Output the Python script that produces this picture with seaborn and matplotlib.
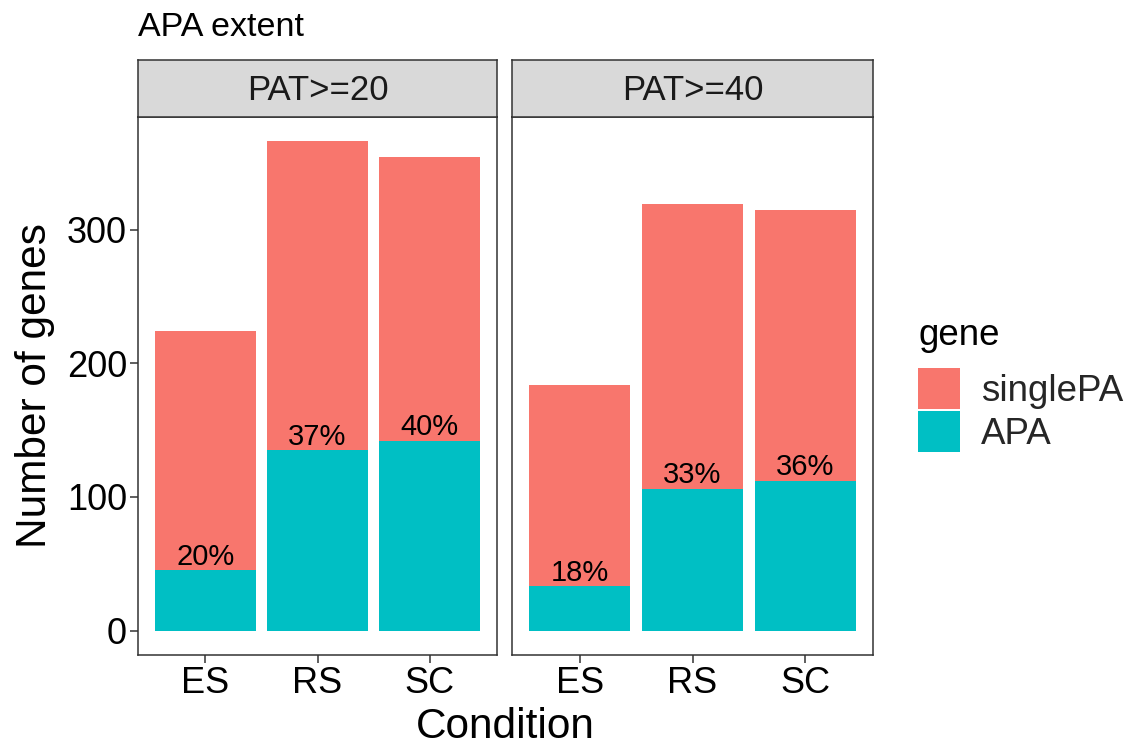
import matplotlib
matplotlib.use("Agg")
import matplotlib.pyplot as plt
from matplotlib.patches import Patch
import seaborn as sns
import pandas as pd

# Gene counts per condition and PAT threshold
conditions = ["ES", "RS", "SC"]
thresholds = ["PAT>=20", "PAT>=40"]
apa_counts = {"PAT>=20": [45, 135, 142], "PAT>=40": [33, 106, 112]}
single_pa_counts = {"PAT>=20": [179, 231, 212], "PAT>=40": [151, 213, 203]}

gene_levels = ["singlePA", "APA"]
gene_colors = {"singlePA": "#F8766D", "APA": "#00BFC4"}

rows = []
for th in thresholds:
    for cond, a, s in zip(conditions, apa_counts[th], single_pa_counts[th]):
        rows.append({"threshold": th, "Condition": cond, "APA": a,
                     "singlePA": s, "total": a + s})
df = pd.DataFrame(rows)
df["pct"] = (df["APA"] / df["total"] * 100).round().astype(int)

sns.set_theme(style="white")
plt.rcParams["font.family"] = ["Liberation Sans", "DejaVu Sans"]

W, H = 1128, 747
fig = plt.figure(figsize=(W / 100, H / 100), dpi=100)
fig.patch.set_facecolor("white")

dark = "#333333"
panel_x = [(138, 497), (512, 873)]
panel_top, panel_bottom = 117, 655
strip_top = 60

ymax = df["total"].max()
ylim = (-0.05 * ymax, 1.05 * ymax)

axes = []
for i, th in enumerate(thresholds):
    x0, x1 = panel_x[i]
    ax = fig.add_axes([x0 / W, (H - panel_bottom) / H, (x1 - x0) / W,
                       (panel_bottom - panel_top) / H])
    sub = df[df["threshold"] == th]
    sns.barplot(data=sub, x="Condition", y="total", order=conditions,
                color=gene_colors["singlePA"], saturation=1, width=0.9,
                errorbar=None, linewidth=0, edgecolor="none", ax=ax)
    sns.barplot(data=sub, x="Condition", y="APA", order=conditions,
                color=gene_colors["APA"], saturation=1, width=0.9,
                errorbar=None, linewidth=0, edgecolor="none", ax=ax)
    for j, r in enumerate(sub.itertuples()):
        ax.annotate(f"{r.pct}%", (j, r.APA), xytext=(0, 4),
                    textcoords="offset points", ha="center", va="baseline",
                    fontsize=21, color="black")
    ax.set_xlim(-0.6, 2.6)
    ax.set_ylim(*ylim)
    ax.set_yticks([0, 100, 200, 300])
    ax.set_xlabel("")
    ax.set_ylabel("")
    for sp in ax.spines.values():
        sp.set_color(dark)
        sp.set_linewidth(1.1)
    ax.tick_params(axis="both", which="both", direction="out", length=6,
                   width=1.1, color=dark, labelsize=26, labelcolor="black",
                   pad=2, bottom=True, left=(i == 0))
    if i > 0:
        ax.tick_params(labelleft=False)
    ax.grid(False)
    axes.append(ax)

    # facet strip
    sax = fig.add_axes([x0 / W, (H - panel_top) / H, (x1 - x0) / W,
                        (panel_top - strip_top) / H])
    sax.set_facecolor("#D9D9D9")
    sax.set_xticks([])
    sax.set_yticks([])
    for sp in sax.spines.values():
        sp.set_color(dark)
        sp.set_linewidth(1.1)
    sax.text(0.5, 0.46, th, ha="center", va="center", fontsize=25,
             color="#1A1A1A", transform=sax.transAxes)

fig.text(138 / W, 1 - 27 / H, "APA extent", ha="left", va="center",
         fontsize=24.5, color="black")
fig.text((138 + 873) / 2 / W, 1 - 727 / H, "Condition", ha="center",
         va="center", fontsize=30.5, color="black")
fig.text(35 / W, 1 - 386 / H, "Number of genes", ha="center", va="center",
         rotation=90, fontsize=30.5, color="black")

# legend: title placed separately so the gap to the keys can be set freely
fig.text(918 / W, 1 - 345 / H, "gene", ha="left", va="baseline",
         fontsize=26.5, color="black")
handles = [Patch(facecolor=gene_colors[g], edgecolor="none") for g in gene_levels]
leg = fig.legend(handles, gene_levels, loc="upper left",
                 bbox_to_anchor=(918 / W, 1 - 368 / H), frameon=False,
                 fontsize=26.5, handlelength=1.13,
                 handleheight=1.33, labelspacing=0.06, handletextpad=0.58,
                 borderpad=0, borderaxespad=0)

fig.savefig("out.png", dpi=100, facecolor="white")
